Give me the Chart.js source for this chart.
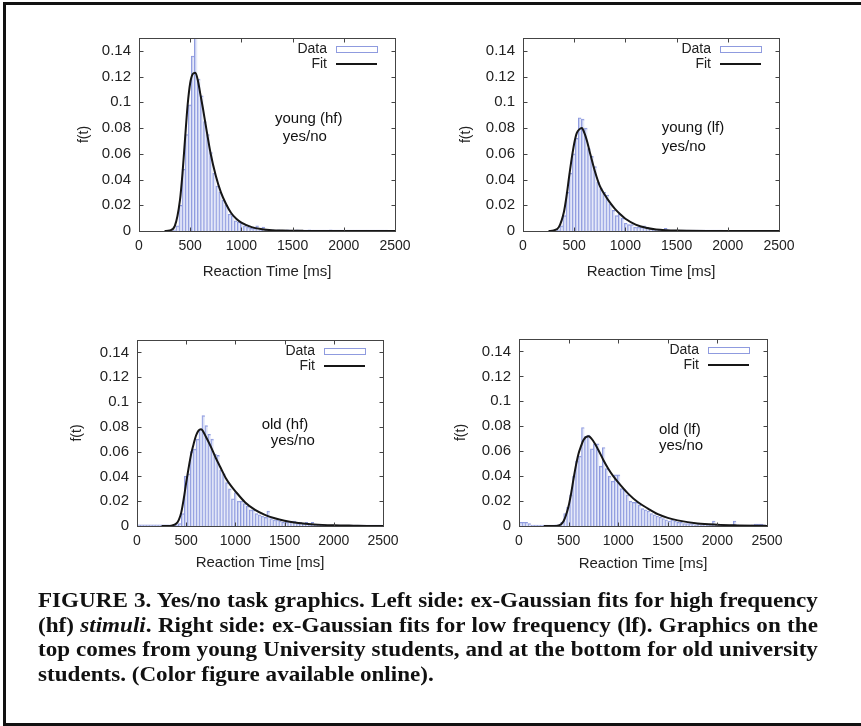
<!DOCTYPE html>
<html>
<head>
<meta charset="utf-8">
<title>Yes/no task - ex-Gaussian fits</title>
<script src="https://cdn.jsdelivr.net/npm/chart.js@4.4.1/dist/chart.umd.min.js"></script>
<style>
  body { margin: 0; background: #fff; }
  #page { position: relative; width: 861px; height: 726px; overflow: hidden; background: #fff; }
  #frame { position: absolute; left: 3px; top: 2px; width: 862px; height: 718px;
    border-left: 3px solid #111; border-top: 3px solid #111; border-bottom: 3px solid #111; }
  canvas { position: absolute; }
  #caption { position: absolute; left: 38px; top: 588px; width: 709px;
    transform: scaleX(1.1); transform-origin: 0 0;
    font: bold 21px 'Liberation Serif', 'Times New Roman', serif; line-height: 24.7px; color: #111; }
  #caption div { white-space: nowrap; text-align: justify; text-align-last: justify; }
  #caption div.last { text-align-last: left; }
</style>
</head>
<body>
<div id="page">
  <div id="frame"></div>
  <canvas id="c1" width="400" height="270"></canvas>
  <canvas id="c2" width="400" height="270"></canvas>
  <canvas id="c3" width="400" height="270"></canvas>
  <canvas id="c4" width="400" height="270"></canvas>
  <div id="caption">
    <div>FIGURE 3. Yes/no task graphics. Left side: ex-Gaussian fits for high frequency</div>
    <div>(hf) <i>stimuli</i>. Right side: ex-Gaussian fits for low frequency (lf). Graphics on the</div>
    <div>top comes from young University students, and at the bottom for old university</div>
    <div class="last">students. (Color figure available online).</div>
  </div>
</div>
<script>
// Reaction time histograms (30 ms bins) with their ex-Gaussian fits

const binCenters = [
  15, 45, 75, 105, 135, 165, 195, 225, 255, 285,
  315, 345, 375, 405, 435, 465, 495, 525, 555, 585,
  615, 645, 675, 705, 735, 765, 795, 825, 855, 885,
  915, 945, 975, 1005, 1035, 1065, 1095, 1125, 1155, 1185,
  1215, 1245, 1275, 1305, 1335, 1365, 1395, 1425, 1455, 1485,
  1515, 1545, 1575, 1605, 1635, 1665, 1695, 1725, 1755, 1785,
  1815, 1845, 1875, 1905, 1935, 1965, 1995, 2025, 2055, 2085,
  2115, 2145, 2175, 2205, 2235, 2265, 2295, 2325, 2355, 2385,
  2415, 2445, 2475
];

const youngHfBars = [
  0, 0, 0, 0, 0, 0, 0, 0, 0, 0,
  0, 0.001, 0.004, 0.02, 0.048, 0.075, 0.098, 0.136, 0.16, 0.118,
  0.105, 0.085, 0.075, 0.061, 0.045, 0.035, 0.03, 0.024, 0.02, 0.013,
  0.012, 0.008, 0.007, 0.006, 0.004, 0.003, 0.002, 0.002, 0.004, 0.001,
  0.003, 0.001, 0.001, 0.001, 0.0008, 0.001, 0.0008, 0.0008, 0.001, 0.0008,
  0.0008, 0.001, 0.0008, 0.0008, 0.0008, 0.001, 0.0008, 0.0008, 0.0008, 0.0008,
  0.0008, 0.0008, 0.001, 0.0008, 0.0008, 0.0008, 0.0008, 0.0008, 0.0008, 0.0008,
  0.0008, 0.0008, 0.0008, 0.0008, 0.0008, 0.0008, 0.0008, 0.0008, 0.0008, 0.0008,
  0.0008, 0, 0
];

const youngLfBars = [
  0, 0, 0, 0, 0, 0, 0, 0, 0, 0,
  0, 0.001, 0.004, 0.012, 0.03, 0.045, 0.06, 0.072, 0.088, 0.087,
  0.08, 0.064, 0.058, 0.05, 0.038, 0.033, 0.03, 0.028, 0.021, 0.016,
  0.012, 0.013, 0.01, 0.006, 0.005, 0.005, 0.003, 0.003, 0.003, 0.004,
  0.003, 0.002, 0.001, 0.001, 0.001, 0.0008, 0.002, 0.001, 0.0008, 0.0008,
  0.0008, 0.0008, 0.0008, 0.0008, 0.0008, 0.0008, 0.0008, 0.0008, 0.0008, 0.0008,
  0.0008, 0.0008, 0.0008, 0.0008, 0.0008, 0, 0, 0, 0, 0,
  0, 0, 0, 0, 0, 0, 0, 0, 0, 0,
  0, 0, 0
];

const oldHfBars = [
  0.001, 0.001, 0.001, 0.001, 0.001, 0.001, 0.001, 0.001, 0.001, 0.001,
  0.001, 0.0008, 0.0008, 0.001, 0.002, 0.01, 0.04, 0.042, 0.06, 0.062,
  0.07, 0.078, 0.089, 0.081, 0.074, 0.07, 0.058, 0.057, 0.045, 0.042,
  0.035, 0.03, 0.022, 0.027, 0.02, 0.02, 0.018, 0.016, 0.013, 0.013,
  0.01, 0.009, 0.008, 0.007, 0.012, 0.006, 0.005, 0.005, 0.004, 0.003,
  0.003, 0.004, 0.004, 0.004, 0.002, 0.003, 0.002, 0.003, 0.001, 0.003,
  0.001, 0.001, 0.0008, 0.001, 0.0008, 0.0008, 0.001, 0.0008, 0.0008, 0.0008,
  0.0008, 0.0008, 0.0008, 0.0008, 0.0008, 0.0008, 0.0008, 0.0008, 0.0008, 0.0008,
  0.0008, 0.0008, 0.0008
];

const oldLfBars = [
  0.003, 0.003, 0.003, 0.002, 0.0008, 0.0008, 0.0008, 0.0008, 0.0008, 0.0008,
  0.0008, 0.0008, 0.001, 0.001, 0.003, 0.01, 0.015, 0.025, 0.04, 0.052,
  0.056, 0.079, 0.072, 0.073, 0.062, 0.066, 0.066, 0.048, 0.063, 0.046,
  0.04, 0.036, 0.041, 0.041, 0.03, 0.029, 0.025, 0.02, 0.019, 0.019,
  0.017, 0.014, 0.013, 0.012, 0.01, 0.009, 0.008, 0.007, 0.006, 0.005,
  0.004, 0.005, 0.004, 0.003, 0.003, 0.002, 0.002, 0.002, 0.002, 0.001,
  0.002, 0.001, 0.002, 0.001, 0.001, 0.004, 0.001, 0.001, 0.001, 0.0008,
  0.0008, 0.001, 0.004, 0.001, 0.0008, 0.0008, 0.0008, 0.0008, 0.001, 0.0015,
  0.0015, 0.0015, 0.001
];

const fitTimes = [
  250, 300, 350, 400, 425, 450, 475, 500, 525, 550,
  575, 600, 625, 650, 700, 750, 800, 850, 900, 950,
  1000, 1100, 1200, 1300, 1400, 1500, 1600, 1800, 2000, 2200,
  2400, 2500
];

const youngHfFit = [
  0, 0.0005, 0.004, 0.024, 0.045, 0.072, 0.098, 0.115, 0.122, 0.123,
  0.117, 0.106, 0.095, 0.083, 0.06, 0.043, 0.03, 0.021, 0.014, 0.0095,
  0.0065, 0.003, 0.0014, 0.0006, 0.0003, 0.0002, 0.0001, 0, 0, 0,
  0, 0
];

const youngLfFit = [
  0, 0.0005, 0.003, 0.015, 0.027, 0.042, 0.056, 0.068, 0.076, 0.079,
  0.08, 0.076, 0.07, 0.062, 0.047, 0.035, 0.028, 0.022, 0.017, 0.013,
  0.0095, 0.005, 0.0025, 0.0012, 0.0006, 0.0003, 0.0001, 0, 0, 0,
  0, 0
];

const oldHfFit = [
  0, 0, 0.0003, 0.002, 0.005, 0.011, 0.022, 0.035, 0.047, 0.058,
  0.066, 0.073, 0.077, 0.078, 0.072, 0.064, 0.055, 0.047, 0.039, 0.033,
  0.028, 0.019, 0.013, 0.009, 0.0062, 0.0042, 0.0028, 0.0013, 0.0006, 0.0003,
  0.0001, 0.0001
];

const oldLfFit = [
  0, 0, 0, 0.0005, 0.0015, 0.004, 0.009, 0.016, 0.026, 0.038,
  0.049, 0.058, 0.064, 0.069, 0.072, 0.068, 0.061, 0.053, 0.046, 0.04,
  0.035, 0.026, 0.019, 0.014, 0.0095, 0.0065, 0.0045, 0.002, 0.001, 0.0005,
  0.0002, 0.0001
];

const xTicks = [0, 500, 1000, 1500, 2000, 2500];
const yTicks = [0, 0.02, 0.04, 0.06, 0.08, 0.1, 0.12, 0.14];

const fontFamily = "'Liberation Sans', Arial, Helvetica, sans-serif";
Chart.defaults.font.family = fontFamily;
Chart.defaults.color = '#222';

const barLine = 'rgba(115, 130, 215, 0.8)';
const barFill = 'rgba(212, 218, 245, 0.6)';
const fitColor = '#161616';

// gnuplot look: closed box, inward mirrored ticks, key and note inside the plot
const gnuplotFrame = {
  id: 'gnuplotFrame',
  afterDatasetsDraw(chart, args, opts) {
    const { ctx, chartArea: a, scales: { x, y } } = chart;
    ctx.save();
    ctx.strokeStyle = '#444';
    ctx.lineWidth = 1;
    const l = Math.round(a.left) + 0.5, r = Math.round(a.right) + 0.5;
    const t = Math.round(a.top) + 0.5, b = Math.round(a.bottom) + 0.5;
    ctx.strokeRect(l, t, r - l, b - t);
    ctx.beginPath();
    xTicks.forEach(v => {
      const px = Math.round(x.getPixelForValue(v)) + 0.5;
      ctx.moveTo(px, b); ctx.lineTo(px, b - 4);
      ctx.moveTo(px, t); ctx.lineTo(px, t + 4);
    });
    yTicks.forEach(v => {
      const py = Math.round(y.getPixelForValue(v)) + 0.5;
      ctx.moveTo(l, py); ctx.lineTo(l + 4, py);
      ctx.moveTo(r, py); ctx.lineTo(r - 4, py);
    });
    ctx.stroke();

    // key
    const [bars, fit] = chart.data.datasets;
    ctx.font = '14px ' + fontFamily;
    ctx.fillStyle = '#222';
    ctx.textAlign = 'right';
    ctx.textBaseline = 'middle';
    ctx.fillText(bars.label, a.right - 68, a.top + 11);
    ctx.fillText(fit.label, a.right - 68, a.top + 26);
    ctx.strokeStyle = bars.borderColor;
    ctx.lineWidth = 1;
    ctx.strokeRect(Math.round(a.right - 59) + 0.5, Math.round(a.top + 8) + 0.5, 41, 6);
    ctx.strokeStyle = fit.borderColor;
    ctx.lineWidth = fit.borderWidth;
    ctx.beginPath();
    ctx.moveTo(a.right - 59, a.top + 26);
    ctx.lineTo(a.right - 18, a.top + 26);
    ctx.stroke();

    // group note
    ctx.font = '15px ' + fontFamily;
    ctx.fillStyle = '#111';
    ctx.textAlign = 'left';
    opts.note.forEach((line, i) => {
      const [nx, ny] = opts.noteAt[i];
      ctx.fillText(line, x.getPixelForValue(nx), y.getPixelForValue(ny));
    });
    ctx.restore();
  }
};

function makePanel(p) {
  const W = 400, H = 270;
  const yTitleLh = 14 * 1.2, xTitleLh = 15 * 1.2;
  const padLeft = p.yTitleX - p.left - yTitleLh / 2;
  const yWidth = p.area[0] - p.left - padLeft;
  const xHeight = p.xTitleY + xTitleLh / 2 - p.area[3];

  const canvas = document.getElementById(p.id);
  canvas.style.left = p.left + 'px';
  canvas.style.top = p.top + 'px';
  canvas.style.width = W + 'px';
  canvas.style.height = H + 'px';

  return new Chart(canvas, {
    type: 'bar',
    data: {
      datasets: [
        {
          type: 'bar',
          label: 'Data',
          order: 2,
          data: binCenters.map((t, i) => ({ x: t, y: p.bars[i] })),
          backgroundColor: barFill,
          borderColor: barLine,
          borderWidth: { top: 1, left: 1, right: 0, bottom: 0 },
          barPercentage: 1,
          categoryPercentage: 1
        },
        {
          type: 'line',
          label: 'Fit',
          order: 1,
          data: fitTimes.map((t, i) => ({ x: t, y: p.fit[i] })),
          borderColor: fitColor,
          borderWidth: 2,
          pointRadius: 0,
          cubicInterpolationMode: 'monotone',
          fill: false
        }
      ]
    },
    options: {
      responsive: false,
      animation: false,
      devicePixelRatio: 1,
      events: [],
      layout: {
        padding: {
          left: padLeft,
          right: p.left + W - p.area[1],
          top: p.area[2] - p.top,
          bottom: p.top + H - p.area[3] - xHeight
        }
      },
      plugins: {
        legend: { display: false },
        tooltip: { enabled: false },
        gnuplotFrame: { note: p.note, noteAt: p.noteAt }
      },
      scales: {
        x: {
          type: 'linear',
          min: 0,
          max: 2500,
          offset: false,
          grid: { display: false, drawTicks: false },
          border: { display: false },
          afterBuildTicks: s => { s.ticks = xTicks.map(v => ({ value: v })); },
          afterFit: s => { s.height = xHeight; s.paddingLeft = 0; s.paddingRight = 0; },
          ticks: { padding: 7, maxRotation: 0, autoSkip: false, font: { size: 14 }, callback: v => String(v) },
          title: { display: true, text: 'Reaction Time [ms]', font: { size: 15 }, padding: 0 }
        },
        y: {
          min: 0,
          max: 0.15,
          grid: { display: false, drawTicks: false },
          border: { display: false },
          afterBuildTicks: s => { s.ticks = yTicks.map(v => ({ value: v })); },
          afterFit: s => { s.width = yWidth; s.paddingTop = 0; s.paddingBottom = 0; },
          ticks: { padding: 8, autoSkip: false, font: { size: 15 }, callback: v => String(v) },
          title: { display: true, text: 'f(t)', font: { size: 14 }, padding: 0 }
        }
      }
    },
    plugins: [gnuplotFrame]
  });
}

makePanel({
  id: 'c1', left: 40, top: 20, area: [139, 395, 38, 231], yTitleX: 84, xTitleY: 271.5,
  bars: youngHfBars, fit: youngHfFit,
  note: ['young (hf)', 'yes/no'], noteAt: [[1328, 0.087], [1403, 0.073]]
});
makePanel({
  id: 'c2', left: 430, top: 20, area: [523, 779, 38, 231], yTitleX: 466, xTitleY: 271.5,
  bars: youngLfBars, fit: youngLfFit,
  note: ['young (lf)', 'yes/no'], noteAt: [[1354, 0.08], [1354, 0.0656]]
});
makePanel({
  id: 'c3', left: 40, top: 320, area: [137, 383, 340, 526], yTitleX: 77.5, xTitleY: 563,
  bars: oldHfBars, fit: oldHfFit,
  note: ['old (hf)', 'yes/no'], noteAt: [[1267, 0.0815], [1359, 0.069]]
});
makePanel({
  id: 'c4', left: 430, top: 320, area: [519, 767, 339, 526], yTitleX: 461, xTitleY: 564,
  bars: oldLfBars, fit: oldLfFit,
  note: ['old (lf)', 'yes/no'], noteAt: [[1411, 0.0775], [1411, 0.064]]
});
</script>
</body>
</html>
